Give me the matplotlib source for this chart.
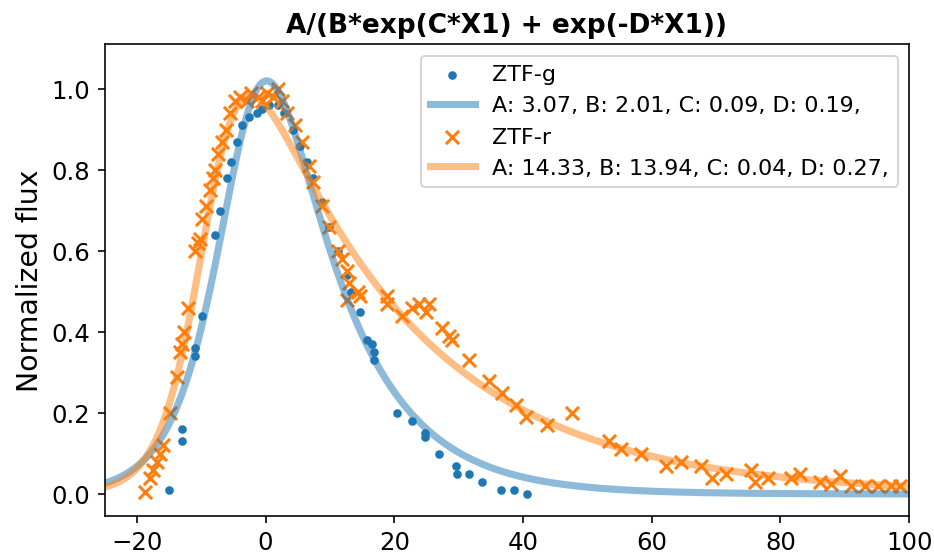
import matplotlib
matplotlib.use('Agg')
import matplotlib.pyplot as plt
import numpy as np

# ZTF-g observations (days from peak, normalized flux)
g_time = [-15.0, -13.0, -13.0, -10.9, -10.9, -9.8, -7.9, -7.1, -6.0, -5.3, -4.5,
          -3.6, -2.5, -1.4, -0.5, 0.6, 1.9, 2.9, 4.2, 5.3, 6.4, 7.3, 8.8, 9.9,
          11.2, 12.7, 13.3, 14.6, 15.7, 16.6, 16.9, 16.9, 20.5, 22.8, 24.7, 24.7,
          27.0, 29.6, 29.8, 31.6, 33.6, 36.6, 38.6, 40.6]
g_flux = [0.01, 0.13, 0.16, 0.34, 0.36, 0.44, 0.64, 0.70, 0.78, 0.82, 0.87,
          0.91, 0.93, 0.94, 0.95, 0.96, 0.96, 0.94, 0.90, 0.86, 0.82, 0.78, 0.72, 0.66,
          0.60, 0.54, 0.50, 0.45, 0.38, 0.37, 0.35, 0.33, 0.20, 0.18, 0.15, 0.14,
          0.10, 0.07, 0.05, 0.05, 0.03, 0.01, 0.01, 0.00]

# ZTF-r observations
r_time = [-18.8, -18.0, -17.5, -16.9, -16.4, -16.0, -14.9, -13.8, -13.3, -13.0,
          -12.6, -12.1, -11.0, -10.5, -10.2, -9.8, -9.3, -8.7, -8.2, -7.9, -7.4,
          -6.8, -6.2, -5.6, -4.8, -4.0, -2.9, -2.2, -1.2, -0.6, 0.3, 1.1, 1.9, 2.6,
          3.4, 4.5, 5.6, 6.8, 7.3, 8.7, 9.9, 11.2, 11.9, 12.6, 13.0, 14.3, 14.6,
          12.7, 18.8, 18.9, 21.2, 22.8, 23.9, 25.0, 25.4, 27.4, 28.5, 29.0, 31.6,
          34.7, 36.7, 38.9, 40.5, 43.7, 47.6, 53.3, 55.3, 58.4, 62.2, 64.5, 67.6,
          69.3, 71.5, 75.5, 76.1, 78.1, 81.7, 83.1, 86.2, 87.9, 89.3, 91.0, 93.2,
          95.2, 97.2, 98.6]
r_flux = [0.005, 0.04, 0.06, 0.08, 0.10, 0.12, 0.20, 0.29, 0.35, 0.37,
          0.40, 0.46, 0.60, 0.62, 0.63, 0.68, 0.71, 0.75, 0.78, 0.80, 0.84,
          0.87, 0.90, 0.94, 0.97, 0.98, 0.97, 0.99, 0.98, 0.97, 0.99, 0.98, 1.00, 0.97,
          0.94, 0.91, 0.87, 0.81, 0.77, 0.71, 0.66, 0.60, 0.58, 0.55, 0.52, 0.50, 0.49,
          0.48, 0.47, 0.49, 0.44, 0.46, 0.47, 0.45, 0.47, 0.41, 0.39, 0.38, 0.33,
          0.28, 0.25, 0.22, 0.19, 0.17, 0.20, 0.13, 0.11, 0.10, 0.07, 0.08, 0.07,
          0.04, 0.05, 0.06, 0.03, 0.04, 0.04, 0.05, 0.03, 0.025, 0.045, 0.02, 0.02,
          0.02, 0.02, 0.02]

# fitted parameters A, B, C, D
g_params = [3.07, 2.01, 0.09, 0.19]
r_params = [14.33, 13.94, 0.04, 0.27]


def model(x, A, B, C, D):
    return A / (B * np.exp(C * x) + np.exp(-D * x))


def label(p):
    return 'A: %.2f, B: %.2f, C: %.2f, D: %.2f,' % tuple(p)


xs = np.linspace(-25, 100, 500)

fig = plt.figure(figsize=(6.4, 3.82), dpi=146)
ax = fig.add_axes([0.112, 0.073, 0.861, 0.846])

ax.scatter(g_time, g_flux, marker='.', s=42, color='C0', label='ZTF-g')
ax.plot(xs, model(xs, *g_params), color='C0', alpha=0.5, lw=3.5, label=label(g_params))
ax.scatter(r_time, r_flux, marker='x', s=42, color='C1', label='ZTF-r')
ax.plot(xs, model(xs, *r_params), color='C1', alpha=0.5, lw=3.5, label=label(r_params))

ax.set_xlim(-25, 100)
ax.set_ylim(-0.055, 1.11)
ax.tick_params(labelsize=12)
ax.set_ylabel('Normalized flux', fontsize=14)
ax.set_title('A/(B*exp(C*X1) + exp(-D*X1))', fontweight='bold', fontsize=13)
ax.legend(loc='upper right', fontsize=11)

fig.savefig('out.png', dpi=146)
